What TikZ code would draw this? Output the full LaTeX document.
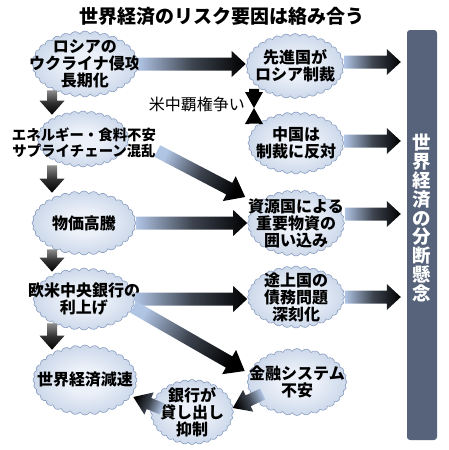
\documentclass[tikz,border=0pt]{standalone}
\usepackage{fontspec}
\setmainfont{Noto Sans CJK JP}
\usetikzlibrary{shapes.symbols,calc}

\definecolor{flowlight}{RGB}{176,196,228}
\colorlet{flowgray}{black!45}
\definecolor{cloudcore}{RGB}{236,241,249}
\definecolor{cloudmid}{RGB}{204,216,234}
\definecolor{cloudedge}{RGB}{154,172,204}
\definecolor{cloudrim}{RGB}{138,158,194}
\definecolor{barcolor}{RGB}{86,99,122}

\pgfdeclareradialshading{puffshade}{\pgfpoint{0bp}{0bp}}{%
  color(0bp)=(cloudcore); color(9bp)=(cloudcore); color(25bp)=(cloudmid); color(37bp)=(cloudedge); color(50bp)=(cloudedge)}

% thick arrow, pale at the tail and black at the head
\newcommand\flow[6][flowlight]{% start colour, from, to, shaft, head, head length
  \coordinate (fa) at #2;
  \coordinate (fb) at #3;
  \coordinate (hb) at ($(fb)!#6!(fa)$);
  \pgfmathanglebetweenpoints{\pgfpointanchor{fa}{center}}{\pgfpointanchor{fb}{center}}%
  \pgfmathsetmacro\flowang{90+\pgfmathresult}%
  \shade[left color=#1, right color=black, middle color=#1!35!black, shading angle=\flowang]
    ($(fa)!#4!-90:(fb)$) -- ($(hb)!#4!-90:(fb)$) -- ($(hb)!#5!-90:(fb)$) -- (fb)
    -- ($(hb)!#5!90:(fb)$) -- ($(hb)!#4!90:(fb)$) -- ($(fa)!#4!90:(fb)$) -- cycle;
}

\begin{document}
\begin{tikzpicture}[x=1pt, y=-1pt,
  puff/.style={cloud, cloud puffs=32, cloud puff arc=120, cloud ignores aspect,
    shade, shading=puffshade, draw=cloudrim, line width=0.6pt, inner sep=0pt},
  txt/.style={font=\bfseries\fontsize{16}{17}\selectfont, align=center, inner sep=0pt},
  headline/.style={font=\bfseries\fontsize{19}{19}\selectfont, inner sep=0pt},
  bartxt/.style={font=\bfseries\fontsize{18.5}{18.9}\selectfont, text=white, align=center, inner sep=0pt}]

\useasboundingbox (0,0) rectangle (448,450);

% Title
\node[headline] (title) at (222,16) {世界経済のリスク要因は絡み合う};

% Bar on the right
\node[fill=barcolor, rounded corners=3pt, minimum width=30pt, minimum height=410pt, inner sep=0pt] (bar) at (422,235) {};
\node[bartxt] (bartext) at (422,218) {世\\界\\経\\済\\の\\分\\断\\懸\\念};

% Clouds
\node[puff, minimum width=106pt, minimum height=66pt] (c1) at (85,64) {};
\node[puff, minimum width=98pt, minimum height=65pt] (c2) at (295,66) {};
\node[puff, minimum width=96pt, minimum height=62pt] (c4) at (296,143) {};
\node[puff, minimum width=92pt, minimum height=56pt] (c5) at (83,139) {};
\node[puff, minimum width=104pt, minimum height=64pt] (c6) at (84,223) {};
\node[puff, minimum width=97pt, minimum height=66pt] (c7) at (296,223) {};
\node[puff, minimum width=102pt, minimum height=62pt] (c8) at (84,299) {};
\node[puff, minimum width=97pt, minimum height=62pt] (c9) at (296,297) {};
\node[puff, minimum width=104pt, minimum height=70pt] (c10) at (85,380) {};
\node[puff, minimum width=100pt, minimum height=67pt] (c11) at (297,382) {};
\node[puff, minimum width=83pt, minimum height=65pt] (c12) at (192,412) {};

% Texts
\node[txt] (t1) at (c1) {ロシアの\\ウクライナ侵攻\\長期化};
\node[txt] (t2) at (c2) {先進国が\\ロシア制裁};
\node[txt] (t4) at (c4) {中国は\\制裁に反対};
\node[txt, font=\bfseries\fontsize{14.4}{16.5}\selectfont] (t5) at (84,143) {エネルギー・食料不安\\サプライチェーン混乱};
\node[txt] (t6) at (c6) {物価高騰};
\node[txt] (t7) at (c7) {資源国による\\重要物資の\\囲い込み};
\node[txt] (t8) at (c8) {欧米中央銀行の\\利上げ};
\node[txt] (t9) at (c9) {途上国の\\債務問題\\深刻化};
\node[txt] (t10) at (c10) {世界経済減速};
\node[txt] (t11) at (c11) {金融システム\\不安};
\node[txt] (t12) at (c12) {銀行が\\貸し出し\\抑制};

% Arrows across
\flow{(c1.east)}{(c1.east -| c2.west)}{6.5pt}{13pt}{14pt}
\flow{($(c2.east)+(0,-4)$)}{($(c2.east -| bar.west)+(-6,-4)$)}{6.5pt}{13pt}{14pt}
\flow{($(c4.east)+(0,-2)$)}{($(c4.east -| bar.west)+(-6,-2)$)}{6.5pt}{13pt}{14pt}
\flow{($(c7.east)+(0,-9)$)}{($(c7.east -| bar.west)+(-6,-9)$)}{6.5pt}{13pt}{14pt}
\flow{(c9.east)}{($(c9.east -| bar.west)+(-6,0)$)}{6.5pt}{13pt}{14pt}
\flow{(c6.east)}{(c6.east -| c7.west)}{6.5pt}{13pt}{14pt}
\flow{(c8.east)}{(c8.east -| c9.west)}{6.5pt}{13pt}{14pt}

% Diagonal arrows
\flow{($(t5.east)+(1,8)$)}{($(c7.west)+(-2,-26)$)}{6.5pt}{14pt}{18pt}
\flow{($(c8.east)+(-2,8)$)}{($(c11.west)+(-2,-11)$)}{6.5pt}{14pt}{18pt}
\flow{($(c11.west)+(16,12)$)}{($(c12.east)+(-1,-4)$)}{6pt}{12pt}{17pt}
\flow{($(c12.west)+(12,-3)$)}{($(c10.east)+(-4,17)$)}{6pt}{12pt}{17pt}

% Arrows down the left side
\coordinate (lane) at (52,0);
\flow[flowgray]{($(c1.south -| lane)+(0,-7)$)}{($(c5.north -| lane)+(0,4)$)}{5pt}{12.5pt}{14pt}
\flow[flowgray]{($(c5.south -| lane)+(0,-2)$)}{($(c6.north -| lane)+(0,2)$)}{5pt}{12.5pt}{14pt}
\flow[flowgray]{($(c6.south -| lane)+(0,-6)$)}{($(c8.north -| lane)+(0,4)$)}{5pt}{12.5pt}{14pt}
\flow[flowgray]{($(c8.south -| lane)+(0,-7)$)}{($(c10.north -| lane)+(0,5)$)}{5pt}{12.5pt}{14pt}

% US-China rivalry
\coordinate (clash) at (254,108);
\flow[black]{($(c2.south -| clash)+(0,-10)$)}{(clash)}{5pt}{9pt}{16pt}
\flow[black]{($(c4.north -| clash)+(0,12)$)}{(clash)}{5pt}{9pt}{16pt}
\node[anchor=east, font=\fontsize{16}{16}\selectfont, inner sep=0pt] (rivalry) at (245,104) {米中覇権争い};

\end{tikzpicture}
\end{document}
